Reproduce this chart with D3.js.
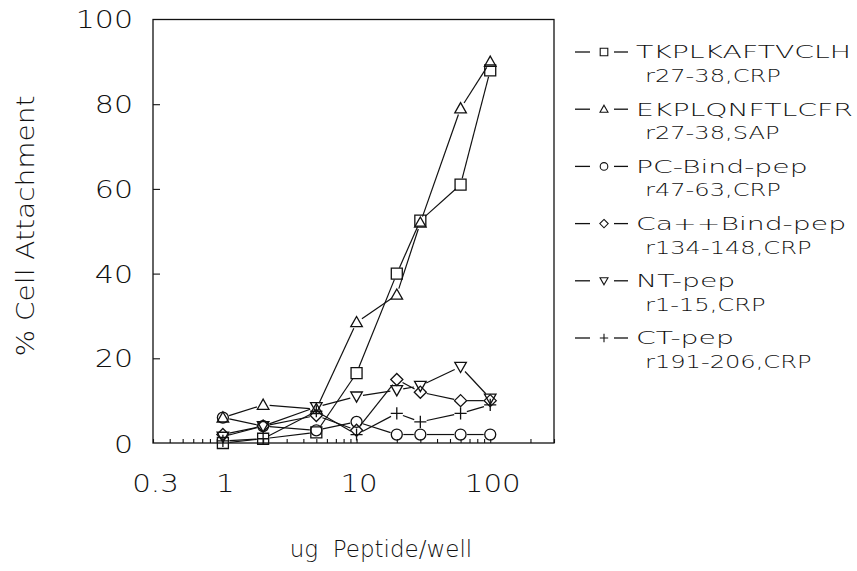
<!DOCTYPE html>
<html>
<head>
<meta charset="utf-8">
<script src="https://cdn.jsdelivr.net/npm/d3@7"></script>
<style>
	body { margin: 0; background: #fff; }
	text { font-family: 'DejaVu Sans', 'Liberation Sans', sans-serif; font-weight: 200; fill: #111; }
</style>
</head>
<body>
<div class="graphic"></div>
<script>
// doses (ug peptide / well) and % cell attachment
const doses = [1, 2, 5, 10, 20, 30, 60, 100]
const tkplk = [0, 1, 2.5, 16.5, 40, 52.5, 61, 88]
const ekplq = [6, 9, 8, 28.5, 35, 52, 79, 90]
const pcBind = [6, 4, 3, 5, 2, 2, 2, 2]
const caBind = [2, 4, 6.5, 3, 15, 12, 10, 10]
const ntPep = [1.5, 4, 8.5, 11, 12.5, 13.5, 18, 10.5]
const ctPep = [0.5, 1, 7.5, 2, 7, 5, 7, 9]

const seriesNames = [
	['TKPLKAFTVCLH', 'r27-38,CRP'],
	['EKPLQNFTLCFR', 'r27-38,SAP'],
	['PC-Bind-pep', 'r47-63,CRP'],
	['Ca++Bind-pep', 'r134-148,CRP'],
	['NT-pep', 'r1-15,CRP'],
	['CT-pep', 'r191-206,CRP'],
]
const symbols = ['square', 'triangle', 'circle', 'diamond', 'down', 'plus']
const values = [tkplk, ekplq, pcBind, caBind, ntPep, ctPep]

const xTickLabels = [0.3, 1, 10, 100]
const yTickLabels = [0, 20, 40, 60, 80, 100]

const width = 857
const height = 571
const frame = { left: 153, right: 554, top: 19.5, bottom: 443 }

const svg = d3.select('.graphic').append('svg')
	.attr('width', width)
	.attr('height', height)

const scale = {
	x: d3.scaleLog().domain([0.3, 300]).range([frame.left, frame.right]),
	y: d3.scaleLinear().domain([0, 100]).range([frame.bottom, frame.top]),
}

function markerPath(type, r) {
	if (type === 'square') return `M${-r},${-r}H${r}V${r}H${-r}Z`
	if (type === 'triangle') return `M0,${-r * 1.05}L${r * 1.05},${r * 0.8}L${-r * 1.05},${r * 0.8}Z`
	if (type === 'down') return `M0,${r * 1.05}L${r * 1.05},${-r * 0.8}L${-r * 1.05},${-r * 0.8}Z`
	if (type === 'diamond') return `M0,${-r * 1.1}L${r * 1.1},0L0,${r * 1.1}L${-r * 1.1},0Z`
	if (type === 'plus') return `M${-r * 1.1},0H${r * 1.1}M0,${-r * 1.1}V${r * 1.1}`
	return d3.arc()({ innerRadius: 0, outerRadius: r, startAngle: 0, endAngle: 2 * Math.PI })
}

// stretch text horizontally so the wide plotter lettering is matched
function stretch(sel, k) {
	sel.each(function () {
		const len = this.getComputedTextLength()
		d3.select(this).attr('textLength', len * k).attr('lengthAdjust', 'spacingAndGlyphs')
	})
}

// frame
svg.append('rect')
	.attr('x', frame.left).attr('y', frame.top)
	.attr('width', frame.right - frame.left).attr('height', frame.bottom - frame.top)
	.attr('fill', 'none').attr('stroke', '#111').attr('stroke-width', 1.3)

// x ticks (inward)
const minor = []
;[0.1, 1, 10, 100].forEach(dec => d3.range(1, 10).forEach(m => {
	const v = +(dec * m).toPrecision(3)
	if (v >= 0.3 && v <= 300) minor.push(v)
}))
const xAxis = svg.append('g')
	.attr('transform', `translate(0,${frame.bottom})`)
	.call(d3.axisBottom(scale.x).tickValues(minor).tickSize(-4).tickFormat(''))
xAxis.select('.domain').remove()
xAxis.selectAll('line').attr('stroke', '#111').attr('stroke-width', 1.1)

const xLabels = svg.append('g')
	.attr('transform', `translate(0,${frame.bottom})`)
	.call(d3.axisBottom(scale.x).tickValues(xTickLabels).tickSize(0).tickPadding(32).tickFormat(d => String(d)))
xLabels.select('.domain').remove()
xLabels.selectAll('text')
	.attr('font-size', 24).attr('font-family', null)
	.attr('dx', 2)
	.call(stretch, 1.22)

// y ticks (inward)
const yAxis = svg.append('g')
	.attr('transform', `translate(${frame.left},0)`)
	.call(d3.axisLeft(scale.y).tickValues([20, 40, 60, 80]).tickSize(-7).tickFormat(''))
yAxis.select('.domain').remove()
yAxis.selectAll('line').attr('stroke', '#111').attr('stroke-width', 1.1)

const yLabels = svg.append('g')
	.attr('transform', `translate(${frame.left},0)`)
	.call(d3.axisLeft(scale.y).tickValues(yTickLabels).tickSize(0).tickPadding(20).tickFormat(d => String(d)))
yLabels.select('.domain').remove()
yLabels.selectAll('text')
	.attr('font-size', 24).attr('font-family', null)
	.attr('dy', d => d === 0 ? '0.4em' : '0.35em')
	.call(stretch, 1.25)

// axis titles
svg.append('text')
	.attr('x', 381).attr('y', 557)
	.attr('text-anchor', 'middle').attr('font-size', 23)
	.attr('xml:space', 'preserve')
	.text('ug  Peptide/well')
	.call(stretch, 1.0)

svg.append('text')
	.attr('transform', 'translate(34,226) rotate(-90)')
	.attr('text-anchor', 'middle').attr('font-size', 25)
	.text('% Cell Attachment')
	.call(stretch, 1.12)

// series
const plot = svg.append('g')
const gap = 6.5
values.forEach((vals, i) => {
	const pts = doses.map((d, j) => [scale.x(d), scale.y(vals[j])])
	const g = plot.append('g')
	// line segments stop short of the markers
	d3.pairs(pts).forEach(([p, q]) => {
		const dx = q[0] - p[0]
		const dy = q[1] - p[1]
		const len = Math.hypot(dx, dy)
		if (len <= gap * 2) return
		const ux = dx / len
		const uy = dy / len
		g.append('line')
			.attr('x1', p[0] + ux * gap).attr('y1', p[1] + uy * gap)
			.attr('x2', q[0] - ux * gap).attr('y2', q[1] - uy * gap)
			.attr('stroke', '#111').attr('stroke-width', 1.2)
	})
	g.selectAll('path')
		.data(pts)
		.enter().append('path')
			.attr('transform', d => `translate(${d[0]},${d[1]})`)
			.attr('d', markerPath(symbols[i], 5.5))
			.attr('fill', 'none').attr('stroke', '#111').attr('stroke-width', 1.3)
})

// legend
const legend = svg.append('g')
seriesNames.forEach((names, i) => {
	const y0 = 52 + i * 57.2
	const row = legend.append('g').attr('transform', `translate(0,${y0})`)
	row.append('line').attr('x1', 575).attr('x2', 590).attr('y1', 0).attr('y2', 0)
		.attr('stroke', '#111').attr('stroke-width', 1.3)
	row.append('line').attr('x1', 614).attr('x2', 628).attr('y1', 0).attr('y2', 0)
		.attr('stroke', '#111').attr('stroke-width', 1.3)
	row.append('path')
		.attr('transform', 'translate(604,0)')
		.attr('d', markerPath(symbols[i], 3.8))
		.attr('fill', 'none').attr('stroke', '#111').attr('stroke-width', 1.1)
	row.append('text')
		.attr('x', 636).attr('y', 0).attr('dy', '0.36em')
		.attr('font-size', 18)
		.text(names[0])
		.call(stretch, 1.57)
	row.append('text')
		.attr('x', 645).attr('y', 23.5).attr('dy', '0.36em')
		.attr('font-size', 18)
		.text(names[1])
		.call(stretch, 1.34)
})
</script>
</body>
</html>
